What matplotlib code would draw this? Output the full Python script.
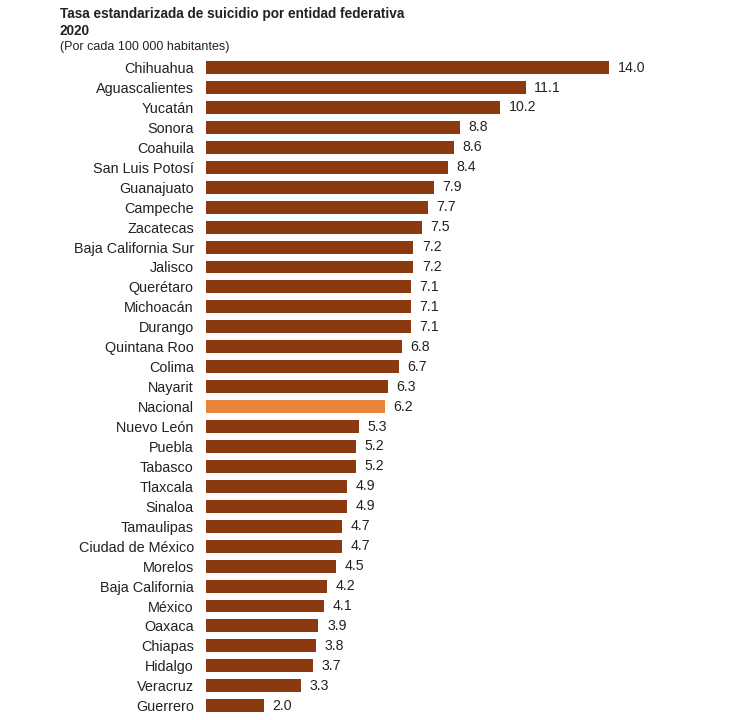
import matplotlib.pyplot as plt

estados = ["Chihuahua", "Aguascalientes", "Yucatán", "Sonora", "Coahuila",
           "San Luis Potosí", "Guanajuato", "Campeche", "Zacatecas",
           "Baja California Sur", "Jalisco", "Querétaro", "Michoacán",
           "Durango", "Quintana Roo", "Colima", "Nayarit", "Nacional",
           "Nuevo León", "Puebla", "Tabasco", "Tlaxcala", "Sinaloa",
           "Tamaulipas", "Ciudad de México", "Morelos", "Baja California",
           "México", "Oaxaca", "Chiapas", "Hidalgo", "Veracruz", "Guerrero"]
tasas = [14.0, 11.1, 10.2, 8.8, 8.6, 8.4, 7.9, 7.7, 7.5, 7.2, 7.2, 7.1, 7.1,
         7.1, 6.8, 6.7, 6.3, 6.2, 5.3, 5.2, 5.2, 4.9, 4.9, 4.7, 4.7, 4.5,
         4.2, 4.1, 3.9, 3.8, 3.7, 3.3, 2.0]

plt.rcParams['font.family'] = ['Liberation Sans', 'DejaVu Sans']

fig = plt.figure(figsize=(7.5, 7.2), dpi=100)
ax = fig.add_axes([0.275, 0.006, 0.66, 0.914])

colores = ["#E8853D" if e == "Nacional" else "#8B3A0F" for e in estados]
pos = range(len(estados))
ax.barh(pos, tasas, height=0.65, color=colores)
ax.set_ylim(len(estados) - 0.5, -0.5)
ax.set_xlim(0, 17.2)

for i, v in enumerate(tasas):
    ax.text(v + 0.3, i, f"{v:.1f}", va="center", ha="left", fontsize=10.2,
            color="#222222")

ax.set_yticks(list(pos))
ax.set_yticklabels(estados, fontsize=10.4, color="#222222")
ax.tick_params(axis="y", length=0, pad=9)
ax.set_xticks([])
for s in ax.spines.values():
    s.set_visible(False)

fig.text(0.08, 0.981, "Tasa estandarizada de suicidio por entidad federativa",
         fontsize=9.8, fontweight="bold", va="center", color="#222222")
fig.text(0.08, 0.957, "2020", fontsize=9.8, fontweight="bold", va="center",
         color="#222222")
fig.text(0.08, 0.935, "(Por cada 100 000 habitantes)", fontsize=9,
         va="center", color="#222222")

fig.savefig("out.png", dpi=100)
